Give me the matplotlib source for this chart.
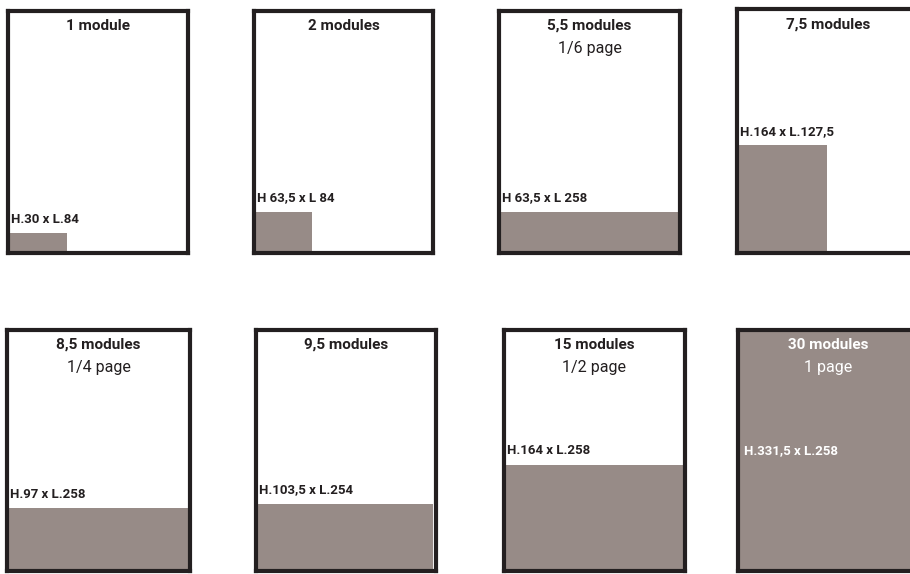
import numpy as np
import matplotlib
matplotlib.use("Agg")
import matplotlib.pyplot as plt

plt.rcParams['font.family'] = ['Roboto', 'DejaVu Sans']

# ad formats (mm)
modules = ["1 module", "2 modules", "5,5 modules", "7,5 modules",
           "8,5 modules", "9,5 modules", "15 modules", "30 modules"]
pages = ["", "", "1/6 page", "", "1/4 page", "", "1/2 page", "1 page"]
heights = [30, 63.5, 63.5, 164, 97, 103.5, 164, 331.5]
widths = [84, 84, 258, 127.5, 258, 254, 258, 258]
labels = ["H.30 x L.84", "H 63,5 x L 84", "H 63,5 x L 258", "H.164 x L.127,5",
          "H.97 x L.258", "H.103,5 x L.254", "H.164 x L.258", "H.331,5 x L.258"]

page_h = 331.5
page_w = 258
fill = "#978b87"
ink = "#231f20"

W, H = 910, 574
fig = plt.figure(figsize=(W / 100, H / 100), dpi=100)
fig.patch.set_facecolor("white")

# frame boxes in pixels (x0, x1, y0, y1), top-down
boxes = [(8, 188, 11, 253), (254, 433, 11, 253), (499, 680, 11, 253), (737, 919, 9, 253),
         (7, 190, 330, 571), (256, 436, 330, 571), (504, 685, 330, 571), (738, 919, 330, 571)]

for i, (x0, x1, y0, y1) in enumerate(boxes):
    ax = fig.add_axes([x0 / W, 1 - y1 / H, (x1 - x0) / W, (y1 - y0) / H])
    ax.set_xlim(0, page_w)
    ax.set_ylim(0, 372)
    ax.set_xticks([])
    ax.set_yticks([])
    for s in ax.spines.values():
        s.set_linewidth(3.0)
        s.set_color(ink)

    full = heights[i] >= page_h
    txt = ink
    if full:
        ax.set_facecolor(fill)
        txt = "white"
        ax.text(0.035, 0.5, labels[i], transform=ax.transAxes, fontsize=9.5,
                fontweight="bold", color=txt, ha="left", va="center")
    else:
        ax.bar(0, heights[i], width=widths[i], align="edge", color=fill, linewidth=0)
        ax.annotate(labels[i], xy=(0, heights[i]), xytext=(2.2, 5.5),
                    textcoords="offset points", fontsize=9.5, fontweight="bold",
                    color=txt, ha="left", va="bottom")

    ax.text(0.5, 0.938, modules[i], transform=ax.transAxes, fontsize=11,
            fontweight="bold", color=txt, ha="center", va="center")
    if pages[i]:
        ax.text(0.5, 0.845, pages[i], transform=ax.transAxes, fontsize=11.5,
                color=txt, ha="center", va="center")

fig.savefig("out.png", dpi=100)
